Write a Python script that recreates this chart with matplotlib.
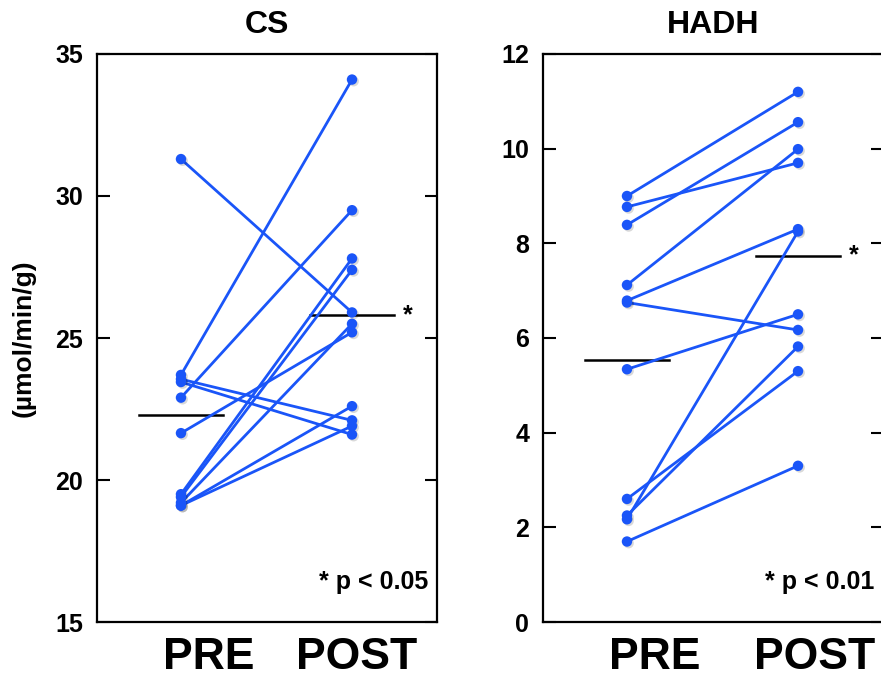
import matplotlib
matplotlib.use("Agg")
import matplotlib.pyplot as plt
import matplotlib.patheffects as pe

plt.rcParams['font.family'] = ['Liberation Sans', 'DejaVu Sans']
plt.rcParams['font.weight'] = 'bold'

# ---- data ----
conditions = ["PRE", "POST"]

cs_pre = [31.3, 23.7, 23.55, 23.45, 22.9, 21.65, 19.5, 19.4, 19.2, 19.1, 19.1]
cs_post = [25.9, 34.1, 22.1, 21.6, 29.5, 25.2, 27.8, 27.4, 25.5, 22.6, 21.9]
cs_means = [22.3, 25.8]

hadh_pre = [9.0, 8.77, 8.39, 7.12, 6.79, 6.75, 5.34, 2.60, 2.25, 2.17, 1.70]
hadh_post = [11.2, 9.70, 10.56, 9.99, 8.30, 6.17, 6.50, 5.30, 5.82, 8.25, 3.30]
hadh_means = [5.53, 7.74]

cs_ticks = [15, 20, 25, 30, 35]
hadh_ticks = [0, 2, 4, 6, 8, 10, 12]

BLUE = "#1a55f8"

W, H = 881, 678
fig = plt.figure(figsize=(W / 100, H / 100), dpi=100)

def make_axes(left_px, title, pre, post, means, yticks, ylim, ptext, label_pos):
    ax = fig.add_axes([left_px / W, (H - 622) / H, 340 / W, 568 / H])
    mshadow = [pe.SimplePatchShadow(offset=(1.2, -1.2), alpha=0.15, shadow_rgbFace='k'), pe.Normal()]
    for a, b in zip(pre, post):
        ax.plot([0, 1], [a, b], color=BLUE, lw=2.0, zorder=3,
                solid_capstyle='round')
    for x, vals in zip([0, 1], [pre, post]):
        ax.plot([x] * len(vals), vals, linestyle='none', marker='o',
                markersize=7.5, markeredgewidth=0, color=BLUE, zorder=4,
                path_effects=mshadow)
    hw = 0.245
    for x, m in zip([0, 1], means):
        ax.plot([x - hw, x + hw], [m, m], color='black', lw=1.8, zorder=2)
    ax.text(1 + 0.3, means[1], '*', fontsize=18, fontweight='bold',
            ha='left', va='center', zorder=4)
    ax.set_xlim(-0.491, 1.497)
    ax.set_ylim(*ylim)
    ax.set_yticks(yticks)
    ax.set_yticklabels([str(t) for t in yticks], fontsize=18, fontweight='bold')
    ax.tick_params(axis='y', direction='in', length=9, width=1.5, right=True,
                   pad=10, labelright=False)
    ax.set_xticks([])
    for s in ax.spines.values():
        s.set_linewidth(1.6)
    ax.set_title(title, fontsize=23, fontweight='bold', pad=15)
    ax.text(0.975, 0.07, ptext, transform=ax.transAxes, ha='right', va='center',
            fontsize=18, fontweight='bold')
    for lab, xp in zip(conditions, label_pos):
        ax.text(xp, -0.062, lab, transform=ax.transAxes, ha='center', va='center',
                fontsize=32, fontweight='bold')
    return ax

ax1 = make_axes(97, "CS", cs_pre, cs_post, cs_means, cs_ticks, (15, 35),
                "* p < 0.05", [0.329, 0.763])
ax1.set_ylabel("(\u00b5mol/min/g)", fontsize=19, fontweight='bold', labelpad=14)

ax2 = make_axes(543, "HADH", hadh_pre, hadh_post, hadh_means, hadh_ticks, (0, 12),
                "* p < 0.01", [0.329, 0.80])

fig.savefig("out.png", dpi=100)
